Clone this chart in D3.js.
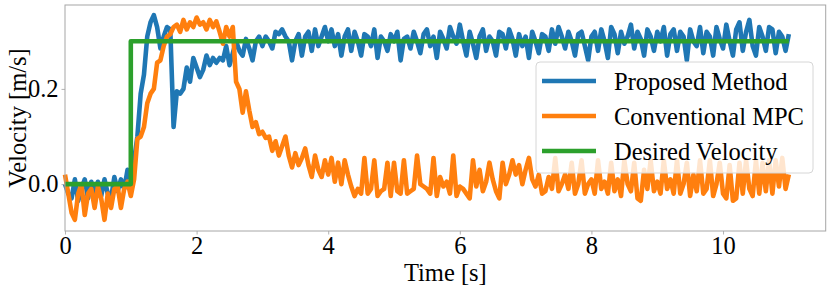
<!DOCTYPE html>
<html>
<head>
<meta charset="utf-8">
<script src="https://d3js.org/d3.v7.min.js"></script>
<style>
body { margin: 0; background: #fff; }
text { font-family: "Liberation Serif", "Times New Roman", serif; fill: #000; }
</style>
</head>
<body>
<div id="vis"></div>
<script>
// Data (sampled every 0.05 s, 0 .. 11 s)
var dt = 0.05;

var proposed = [
	0.000, -0.020, -0.030, 0.010, -0.035, -0.010, 0.010, -0.030, 0.005, -0.030,
	0.005, -0.025, 0.010, -0.020, -0.030, 0.015, -0.015, 0.010, -0.010, 0.030, 0.010,
	0.050, 0.100, 0.190, 0.230, 0.310, 0.340, 0.355, 0.330, 0.285, 0.310,
	0.330, 0.325, 0.120, 0.195, 0.190, 0.200, 0.245, 0.215, 0.265, 0.245,
	0.225, 0.240, 0.270, 0.250, 0.265, 0.255, 0.265, 0.260, 0.290, 0.250,
	0.275, 0.300, 0.280, 0.270, 0.305, 0.285, 0.260, 0.300, 0.310, 0.290,
	0.310, 0.300, 0.285, 0.320, 0.315, 0.325, 0.310, 0.300, 0.260, 0.300,
	0.315, 0.270, 0.310, 0.320, 0.280, 0.325, 0.290, 0.310, 0.330, 0.300,
	0.325, 0.290, 0.315, 0.270, 0.310, 0.325, 0.280, 0.320, 0.300, 0.270,
	0.315, 0.310, 0.290, 0.325, 0.265, 0.310, 0.300, 0.280, 0.315, 0.300,
	0.320, 0.260, 0.305, 0.310, 0.285, 0.320, 0.300, 0.275, 0.315, 0.325,
	0.290, 0.310, 0.265, 0.320, 0.305, 0.285, 0.330, 0.310, 0.295, 0.335,
	0.300, 0.270, 0.320, 0.295, 0.265, 0.310, 0.325, 0.280, 0.310, 0.300,
	0.270, 0.320, 0.315, 0.285, 0.325, 0.305, 0.270, 0.315, 0.290, 0.310,
	0.265, 0.320, 0.300, 0.275, 0.315, 0.310, 0.280, 0.325, 0.295, 0.330,
	0.310, 0.285, 0.320, 0.300, 0.270, 0.315, 0.320, 0.290, 0.260, 0.310,
	0.320, 0.280, 0.325, 0.300, 0.265, 0.330, 0.315, 0.275, 0.320, 0.295,
	0.310, 0.335, 0.285, 0.320, 0.305, 0.270, 0.325, 0.310, 0.280, 0.320,
	0.300, 0.330, 0.270, 0.315, 0.325, 0.280, 0.320, 0.310, 0.260, 0.325,
	0.300, 0.290, 0.330, 0.275, 0.320, 0.310, 0.270, 0.330, 0.305, 0.285,
	0.335, 0.300, 0.270, 0.325, 0.340, 0.280, 0.320, 0.345, 0.290, 0.270,
	0.330, 0.310, 0.280, 0.330, 0.325, 0.275, 0.320, 0.310, 0.280, 0.315
];

var conventional = [
	0.020, -0.020, -0.060, -0.075, -0.020, 0.000, -0.065, -0.020, -0.010, -0.050,
	-0.005, -0.030, -0.075, -0.020, -0.050, -0.010, -0.005, -0.050, -0.010, 0.005, -0.025,
	0.010, 0.095, 0.100, 0.120, 0.170, 0.190, 0.200, 0.255, 0.260, 0.290,
	0.310, 0.315, 0.330, 0.335, 0.320, 0.345, 0.325, 0.340, 0.330, 0.350,
	0.335, 0.340, 0.325, 0.345, 0.330, 0.342, 0.320, 0.295, 0.330, 0.310,
	0.330, 0.215, 0.200, 0.150, 0.195, 0.155, 0.120, 0.130, 0.105, 0.110,
	0.097, 0.100, 0.070, 0.090, 0.060, 0.080, 0.100, 0.060, 0.035, 0.065,
	0.040, 0.055, 0.075, 0.040, 0.015, 0.060, 0.030, 0.015, 0.050, 0.020,
	0.055, 0.005, 0.045, 0.000, 0.050, 0.020, -0.005, -0.025, -0.010, -0.020,
	0.055, -0.020, -0.010, 0.050, -0.025, -0.015, -0.010, 0.045, -0.025, 0.045,
	-0.015, -0.020, 0.050, -0.020, -0.015, -0.010, 0.060, 0.000, -0.005, -0.010,
	-0.020, 0.055, -0.025, 0.015, -0.005, 0.005, -0.020, 0.060, -0.025, -0.005,
	-0.010, -0.020, -0.030, 0.050, -0.005, 0.030, -0.015, 0.005, 0.045, 0.010,
	-0.015, -0.030, 0.045, 0.000, 0.020, 0.050, 0.020, 0.040, 0.000, 0.030,
	0.055, 0.010, -0.005, 0.020, -0.020, -0.015, 0.015, -0.010, 0.055, -0.015,
	0.000, 0.020, -0.010, 0.045, -0.020, 0.000, 0.050, -0.020, 0.000, 0.010,
	-0.020, 0.050, -0.010, 0.005, -0.020, 0.045, -0.015, 0.010, -0.025, 0.050,
	0.000, -0.015, 0.045, -0.030, -0.035, 0.030, -0.010, 0.050, -0.015, 0.005,
	-0.020, 0.050, -0.010, 0.010, -0.020, 0.050, -0.020, 0.000, 0.045, -0.025,
	0.020, -0.015, 0.050, -0.020, -0.010, 0.050, -0.025, 0.000, 0.045, -0.020,
	-0.030, 0.040, -0.035, -0.030, 0.045, -0.020, 0.050, -0.010, -0.025, 0.050,
	-0.020, 0.045, -0.015, 0.050, -0.020, 0.050, -0.005, 0.055, -0.010, 0.020
];

// desired velocity: step from 0 to 0.3 m/s at t = 1 s
var desiredT = [0, 1, 1, 11];
var desiredV = [0, 0, 0.3, 0.3];

var xTicks = [0, 2, 4, 6, 8, 10];
var yTicks = [0.0, 0.2];

var seriesNames = ["Proposed Method", "Conventional MPC", "Desired Velocity"];
var seriesColors = ["#1f77b4", "#ff7f0e", "#2ca02c"];

// Layout Settings
var W = 831, H = 289;
var margin = {top: 5, right: 5.3, bottom: 58, left: 65},
	width = W - margin.left - margin.right,
	height = H - margin.top - margin.bottom;

var svg = d3.select("#vis")
			.append("svg")
			.attr("width", W)
			.attr("height", H);

var plot = svg.append("g")
			  .attr("transform", "translate(" + margin.left + "," + margin.top + ")");

var x = d3.scaleLinear()
		  .domain([0, 11.56])
		  .range([0, width]);

var y = d3.scaleLinear()
		  .domain([-0.0985, 0.3763])
		  .range([height, 0]);

var line = d3.line()
			 .x(function(d) { return x(d[0]); })
			 .y(function(d) { return y(d[1]); });

function pairs(vals) {
	return vals.map(function(v, i) { return [i * dt, v]; });
}

var lines = [
	pairs(proposed),
	pairs(conventional),
	desiredT.map(function(t, i) { return [t, desiredV[i]]; })
];

plot.selectAll(".series")
	.data(lines)
	.enter()
	.append("path")
	.attr("class", "series")
	.attr("d", line)
	.attr("fill", "none")
	.attr("stroke", function(d, i) { return seriesColors[i]; })
	.attr("stroke-width", 4.6)
	.attr("stroke-linejoin", "round");

// axes
var xAxis = plot.append("g")
				.attr("transform", "translate(0," + height + ")")
				.call(d3.axisBottom(x).tickValues(xTicks).tickSize(3.5).tickPadding(2).tickFormat(d3.format("d")));

var yAxis = plot.append("g")
				.call(d3.axisLeft(y).tickValues(yTicks).tickSize(3.5).tickPadding(3).tickFormat(d3.format(".1f")));

[xAxis, yAxis].forEach(function(a) {
	a.select(".domain").remove();
	a.selectAll("line").attr("stroke", "#a0a0a0").attr("stroke-width", 0.8);
	a.selectAll("text")
	 .style("font-family", "'Liberation Serif', serif")
	 .style("font-size", "24.5px")
	 .attr("fill", "#000");
});

// frame
plot.append("rect")
	.attr("width", width)
	.attr("height", height)
	.attr("fill", "none")
	.attr("stroke", "#a6a6a6")
	.attr("stroke-width", 1);

// axis labels
svg.append("text")
   .attr("x", margin.left + width / 2)
   .attr("y", 280.5)
   .attr("text-anchor", "middle")
   .style("font-size", "24.5px")
   .text("Time [s]");

svg.append("text")
   .attr("transform", "translate(26," + (margin.top + height / 2) + ") rotate(-90)")
   .attr("text-anchor", "middle")
   .style("font-size", "24.5px")
   .text("Velocity [m/s]");

// legend
var legend = svg.append("g")
				.attr("transform", "translate(536,62)");

legend.append("rect")
	  .attr("width", 277)
	  .attr("height", 111)
	  .attr("rx", 4)
	  .attr("fill", "#fff")
	  .attr("fill-opacity", 0.8)
	  .attr("stroke", "#d6d6d6")
	  .attr("stroke-width", 1);

var item = legend.selectAll(".item")
				 .data(seriesNames)
				 .enter()
				 .append("g")
				 .attr("class", "item")
				 .attr("transform", function(d, i) { return "translate(0," + (19 + i * 35) + ")"; });

item.append("line")
	.attr("x1", 6)
	.attr("x2", 60)
	.attr("stroke", function(d, i) { return seriesColors[i]; })
	.attr("stroke-width", 4.6);

item.append("text")
	.attr("x", 78)
	.attr("dy", "0.35em")
	.style("font-size", "24.5px")
	.text(function(d) { return d; });
</script>
</body>
</html>
